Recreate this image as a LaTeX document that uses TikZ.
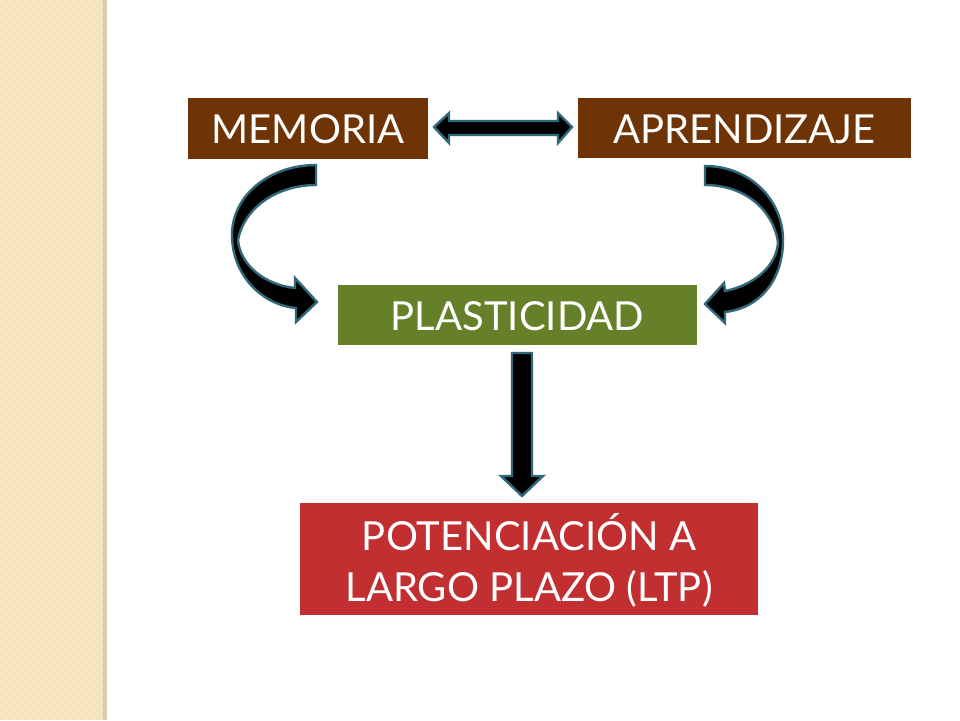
\documentclass[tikz,border=0pt]{standalone}
\usepackage{fontspec}
\setmainfont{Lato}
\definecolor{brownbox}{HTML}{6E3405}
\definecolor{greenbox}{HTML}{66802A}
\definecolor{redbox}{HTML}{C22F30}
\definecolor{arrowedge}{HTML}{31697A}
\definecolor{stripbg}{HTML}{F4E3BC}
\definecolor{stripdot}{HTML}{F8ECCF}
\definecolor{stripshadow}{HTML}{DCCDA8}
\begin{document}
\begin{tikzpicture}[x=1pt,y=-1pt,
  box/.style={draw=none,inner sep=0pt,text=white,align=center,
    font=\fontsize{40}{51}\selectfont},
  bigarrow/.style={fill=black,draw=arrowedge,line width=2.4pt,line join=miter}]
\useasboundingbox (0,0) rectangle (960,720);
\fill[white] (0,0) rectangle (960,720);
% left strip
\fill[stripbg] (0,0) rectangle (103,720);
\foreach \i in {0,...,25}{
  \foreach \j in {0,...,179}{
    \pgfmathtruncatemacro{\myparity}{mod(\i+\j,2)}
    \ifnum\myparity=0 \fill[stripdot] (\i*4,\j*4) rectangle ++(2,2);\fi
  }}
\fill[stripshadow] (103,0) rectangle (107,720);
% boxes
\fill[brownbox] (188,98) rectangle (428,159);
\node[box] (mem) at (308,129.5) {MEMORIA};
\fill[brownbox] (578,98) rectangle (911,158);
\node[box] (apr) at (744.5,129) {APRENDIZAJE};
\fill[greenbox] (338,285) rectangle (697,345);
\node[box] (pla) at (517.5,316) {PLASTICIDAD};
\fill[redbox] (300,503) rectangle (758,615);
\node[box] (ltp) at (529,560) {POTENCIACIÓN A\\LARGO PLAZO (LTP)};
% double arrow
\draw[bigarrow] (434,127) -- (449,113) -- (449,121) -- (558,121) -- (558,113)
  -- (572,127) -- (558,143) -- (558,135) -- (449,135) -- (449,143) -- cycle;
% left curved arrow
\draw[bigarrow] (316,165) .. controls (270,165) and (232,195) .. (232,235)
  .. controls (232,275) and (262,305) .. (296,308) -- (296,322) -- (317,302)
  -- (295,278) -- (295,288) .. controls (265,285) and (240,265) .. (238,240)
  .. controls (245,205) and (280,185) .. (316,185) -- cycle;
% right curved arrow
\draw[bigarrow] (705,166) .. controls (750,166) and (783,200) .. (783,240)
  .. controls (783,280) and (760,308) .. (725,312) -- (725,323) -- (705,304)
  -- (724,283) -- (725,291) .. controls (755,285) and (777,265) .. (778,242)
  .. controls (773,210) and (745,185) .. (705,185) -- cycle;
% down arrow
\draw[bigarrow] (512,353) -- (532,353) -- (532,476) -- (543,476) -- (522,496)
  -- (501,476) -- (512,476) -- cycle;
\end{tikzpicture}
\end{document}
